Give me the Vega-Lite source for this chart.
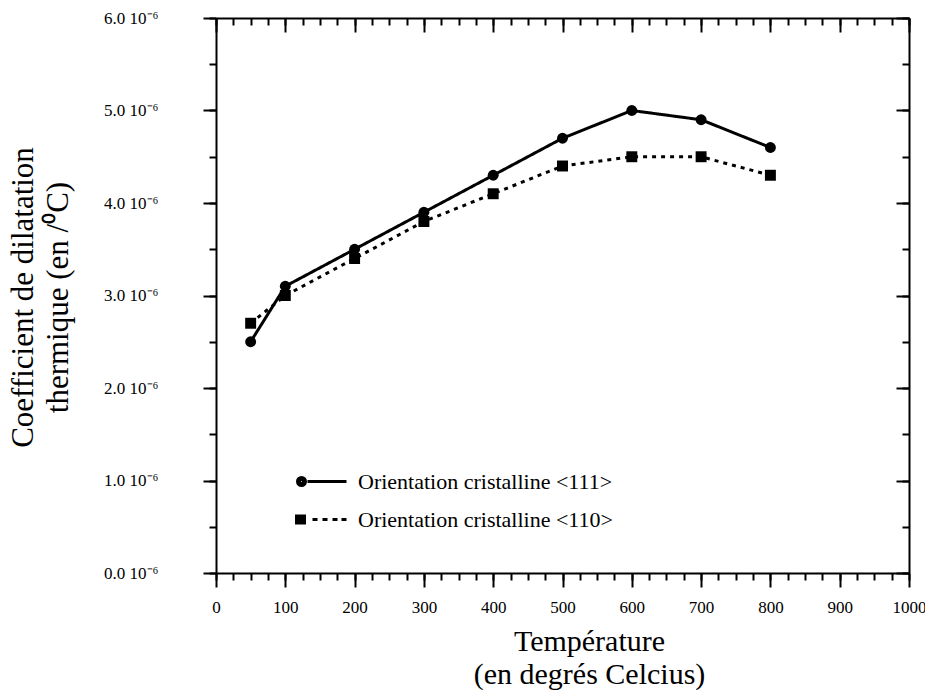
{
  "$schema": "https://vega.github.io/schema/vega-lite/v6.json",
  "width": 693,
  "height": 555,
  "autosize": {"type": "none"},
  "padding": {"left": 216, "top": 18, "right": 16, "bottom": 118},
  "background": "white",
  "config": {
    "view": {"stroke": null},
    "font": "Liberation Serif",
    "axis": {
      "grid": false,
      "domainColor": "black",
      "tickColor": "black",
      "labelColor": "black",
      "titleColor": "black",
      "domainWidth": 2,
      "tickWidth": 2,
      "labelFont": "Liberation Serif",
      "titleFont": "Liberation Serif",
      "titleFontWeight": "normal"
    }
  },
  "data": {
    "values": [
      {"T": 50, "v": 2.5e-6, "s": "<111>"},
      {"T": 100, "v": 3.1e-6, "s": "<111>"},
      {"T": 200, "v": 3.5e-6, "s": "<111>"},
      {"T": 300, "v": 3.9e-6, "s": "<111>"},
      {"T": 400, "v": 4.3e-6, "s": "<111>"},
      {"T": 500, "v": 4.7e-6, "s": "<111>"},
      {"T": 600, "v": 5.0e-6, "s": "<111>"},
      {"T": 700, "v": 4.9e-6, "s": "<111>"},
      {"T": 800, "v": 4.6e-6, "s": "<111>"},
      {"T": 50, "v": 2.7e-6, "s": "<110>"},
      {"T": 100, "v": 3.0e-6, "s": "<110>"},
      {"T": 200, "v": 3.4e-6, "s": "<110>"},
      {"T": 300, "v": 3.8e-6, "s": "<110>"},
      {"T": 400, "v": 4.1e-6, "s": "<110>"},
      {"T": 500, "v": 4.4e-6, "s": "<110>"},
      {"T": 600, "v": 4.5e-6, "s": "<110>"},
      {"T": 700, "v": 4.5e-6, "s": "<110>"},
      {"T": 800, "v": 4.3e-6, "s": "<110>"}
    ]
  },
  "layer": [
    {
      "mark": {"type": "line", "color": "black", "strokeWidth": 3},
      "encoding": {
        "x": {
          "field": "T", "type": "quantitative",
          "scale": {"domain": [0, 1000], "nice": false},
          "axis": {
            "orient": "bottom",
            "values": [0, 100, 200, 300, 400, 500, 600, 700, 800, 900, 1000],
            "tickSize": 14,
            "domain": true,
            "labelFont": "Liberation Serif",
            "labelFontSize": 17,
            "labelPadding": 12,
            "labelFlush": false,
            "labelOverlap": false,
            "format": "d",
            "title": ["Température", "(en degrés Celcius)"],
            "titleFont": "Liberation Serif",
            "titleFontSize": 30,
            "titleX": 373,
            "titleY": 77,
            "titleAlign": "center",
            "titleBaseline": "alphabetic",
            "titleLineHeight": 33
          }
        },
        "y": {
          "field": "v", "type": "quantitative",
          "scale": {"domain": [0, 6e-6], "nice": false},
          "axis": {
            "orient": "left",
            "values": [0, 1e-6, 2e-6, 3e-6, 4e-6, 5e-6, 6e-6],
            "tickSize": 13,
            "domain": true,
            "labelExpr": "format(datum.value * 1000000, '.1f') + ' 10⁻⁶'",
            "labelFont": "Liberation Serif",
            "labelFontSize": 17,
            "labelPadding": 45,
            "labelBaseline": "middle",
            "labelFlush": false,
            "labelOverlap": false,
            "title": ["Coefficient de dilatation", "thermique (en /⁰C)"],
            "titleFont": "Liberation Serif",
            "titleFontSize": 31,
            "titleAngle": 270,
            "titleX": -184,
            "titleY": 279,
            "titleAlign": "center",
            "titleBaseline": "alphabetic",
            "titleLineHeight": 35
          }
        },
        "strokeDash": {
          "field": "s", "type": "nominal",
          "scale": {"domain": ["<111>", "<110>"], "range": [[1, 0], [4, 5]]},
          "legend": null
        }
      }
    },
    {
      "mark": {"type": "point", "filled": true, "color": "black", "opacity": 1, "size": 120},
      "encoding": {
        "x": {
          "field": "T", "type": "quantitative",
          "scale": {"domain": [0, 1000], "nice": false},
          "axis": {
            "orient": "top",
            "offset": -7,
            "values": [0, 25, 50, 75, 100, 125, 150, 175, 200, 225, 250, 275, 300, 325, 350, 375, 400, 425, 450, 475, 500, 525, 550, 575, 600, 625, 650, 675, 700, 725, 750, 775, 800, 825, 850, 875, 900, 925, 950, 975, 1000],
            "tickSize": 7,
            "domain": false,
            "labels": false,
            "title": null
          }
        },
        "y": {
          "field": "v", "type": "quantitative",
          "scale": {"domain": [0, 6e-6], "nice": false},
          "axis": {
            "orient": "left",
            "values": [0, 5e-7, 1e-6, 1.5e-6, 2e-6, 2.5e-6, 3e-6, 3.5e-6, 4e-6, 4.5e-6, 5e-6, 5.5e-6, 6e-6],
            "tickSize": 7,
            "domain": false,
            "labels": false,
            "title": null
          }
        },
        "shape": {
          "field": "s", "type": "nominal",
          "scale": {"domain": ["<111>", "<110>"], "range": ["circle", "square"]},
          "legend": null
        }
      }
    },
    {
      "mark": {"type": "point", "opacity": 0, "strokeWidth": 3},
      "encoding": {
        "x": {
          "field": "T", "type": "quantitative",
          "scale": {"domain": [0, 1000], "nice": false},
          "axis": {
            "orient": "top",
            "offset": -14,
            "values": [0, 100, 200, 300, 400, 500, 600, 700, 800, 900, 1000],
            "tickSize": 14,
            "domain": false,
            "labels": false,
            "title": null
          }
        },
        "y": {
          "field": "v", "type": "quantitative",
          "scale": {"domain": [0, 6e-6], "nice": false},
          "axis": {
            "orient": "right",
            "offset": -13,
            "values": [0, 1e-6, 2e-6, 3e-6, 4e-6, 5e-6, 6e-6],
            "tickSize": 13,
            "domain": false,
            "labels": false,
            "title": null
          }
        },
        "shape": {
          "field": "s", "type": "nominal",
          "scale": {
            "domain": ["<111>", "<110>"],
            "range": [
              "M-0.1,0 A0.1,0.1 0 1,0 0.1,0 A0.1,0.1 0 1,0 -0.1,0 Z M-0.25,0 A0.25,0.25 0 1,0 0.25,0 A0.25,0.25 0 1,0 -0.25,0 Z M-0.4,0 A0.4,0.4 0 1,0 0.4,0 A0.4,0.4 0 1,0 -0.4,0 Z M0.6,0 L4.5,0",
              "M-0.2,-0.05 L0,-0.05 L0,0.05 L-0.2,0.05 Z M-0.35,-0.2 L0.15,-0.2 L0.15,0.2 L-0.35,0.2 Z M-0.5,-0.35 L0.3,-0.35 L0.3,0.35 L-0.5,0.35 Z M1.1,0 L1.6,0 M2.1,0 L2.6,0 M3.1,0 L3.6,0 M4.0,0 L4.5,0"
            ]
          },
          "legend": {
            "title": null,
            "orient": "none",
            "legendX": 74,
            "legendY": 452,
            "padding": 0,
            "labelExpr": "'Orientation cristalline ' + datum.label",
            "labelFont": "Liberation Serif",
            "labelFontSize": 22,
            "labelColor": "black",
            "labelLimit": 500,
            "symbolSize": 400,
            "labelOffset": 45,
            "rowPadding": 15,
            "symbolStrokeWidth": 3,
            "symbolStrokeColor": "black",
            "symbolFillColor": "black",
            "symbolOpacity": 1,
            "encode": {
              "symbols": {
                "update": {
                  "fill": {"value": "black"},
                  "stroke": {"value": "black"},
                  "strokeWidth": {"value": 3},
                  "opacity": {"value": 1}
                }
              }
            }
          }
        }
      }
    },
    {
      "mark": {"type": "point", "opacity": 0},
      "encoding": {
        "x": {
          "field": "T", "type": "quantitative",
          "scale": {"domain": [0, 1000], "nice": false},
          "axis": {
            "orient": "bottom",
            "values": [0, 25, 50, 75, 100, 125, 150, 175, 200, 225, 250, 275, 300, 325, 350, 375, 400, 425, 450, 475, 500, 525, 550, 575, 600, 625, 650, 675, 700, 725, 750, 775, 800, 825, 850, 875, 900, 925, 950, 975, 1000],
            "tickSize": 7,
            "domain": false,
            "labels": false,
            "title": null
          }
        },
        "y": {
          "field": "v", "type": "quantitative",
          "scale": {"domain": [0, 6e-6], "nice": false},
          "axis": {
            "orient": "right",
            "offset": -7,
            "values": [0, 5e-7, 1e-6, 1.5e-6, 2e-6, 2.5e-6, 3e-6, 3.5e-6, 4e-6, 4.5e-6, 5e-6, 5.5e-6, 6e-6],
            "tickSize": 7,
            "domain": false,
            "labels": false,
            "title": null
          }
        }
      }
    },
    {
      "mark": {"type": "point", "opacity": 0},
      "encoding": {
        "x": {
          "field": "T", "type": "quantitative",
          "scale": {"domain": [0, 1000], "nice": false},
          "axis": {
            "orient": "top",
            "ticks": false,
            "domain": true,
            "labels": false,
            "title": null
          }
        },
        "y": {
          "field": "v", "type": "quantitative",
          "scale": {"domain": [0, 6e-6], "nice": false},
          "axis": {
            "orient": "right",
            "ticks": false,
            "domain": true,
            "labels": false,
            "title": null
          }
        }
      }
    }
  ],
  "resolve": {
    "axis": {"x": "independent", "y": "independent"},
    "scale": {"shape": "independent"}
  }
}
